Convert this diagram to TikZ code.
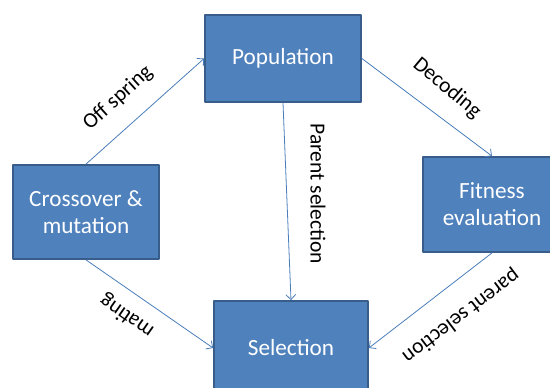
\documentclass[tikz,border=0pt]{standalone}
\usepackage{fontspec}
\setmainfont{Carlito}
\usetikzlibrary{arrows.meta}
\definecolor{boxblue}{HTML}{4F81BD}
\definecolor{boxedge}{HTML}{385D8A}
\definecolor{linkblue}{HTML}{4A7EBB}
\begin{document}
\begin{tikzpicture}[x=1pt,y=1pt,line join=round,
 box/.style={draw=boxedge,line width=1.8pt,fill=boxblue,text=white,align=center,inner sep=0pt,
   font=\fontsize{23.2}{27}\selectfont},
 flow/.style={draw=linkblue,line width=0.8pt,-{Straight Barb[length=5pt,width=10pt]}},
 lbl/.style={font=\fontsize{21.5}{24}\selectfont,inner sep=0pt}]
 \useasboundingbox (0,0) rectangle (550,388);
 \clip (0,0) rectangle (550,388);
 % the four stages
 \node[box,minimum width=156,minimum height=87] (pop) at (283,329.5) {Population};
 \node[box,minimum width=146,minimum height=94] (cross) at (86,176) {Crossover \&\\mutation};
 \node[box,minimum width=138,minimum height=95] (fit) at (492,183.5) {Fitness\\evaluation};
 \node[box,minimum width=154,minimum height=94] (sel) at (291,40) {Selection};
 % links between them
 \draw[flow] (cross.north) -- (pop.west);
 \draw[flow] (pop.east) -- (fit.north);
 \draw[flow] (pop.south) -- (sel.north);
 \draw[flow] (cross.south) -- (sel.west);
 \draw[flow] (fit.south) -- (sel.east);
 % link labels
 \node[lbl,rotate=42] (offspring) at (118,290) {Off spring};
 \node[lbl,rotate=-40] (decoding) at (447,300) {Decoding};
 \node[lbl,rotate=-90] (parentsel) at (318,194) {Parent selection};
 \node[lbl,rotate=145] (mating) at (127,72) {mating};
 \node[lbl,rotate=217] (parentsel2) at (461,72) {parent selection};
\end{tikzpicture}
\end{document}
